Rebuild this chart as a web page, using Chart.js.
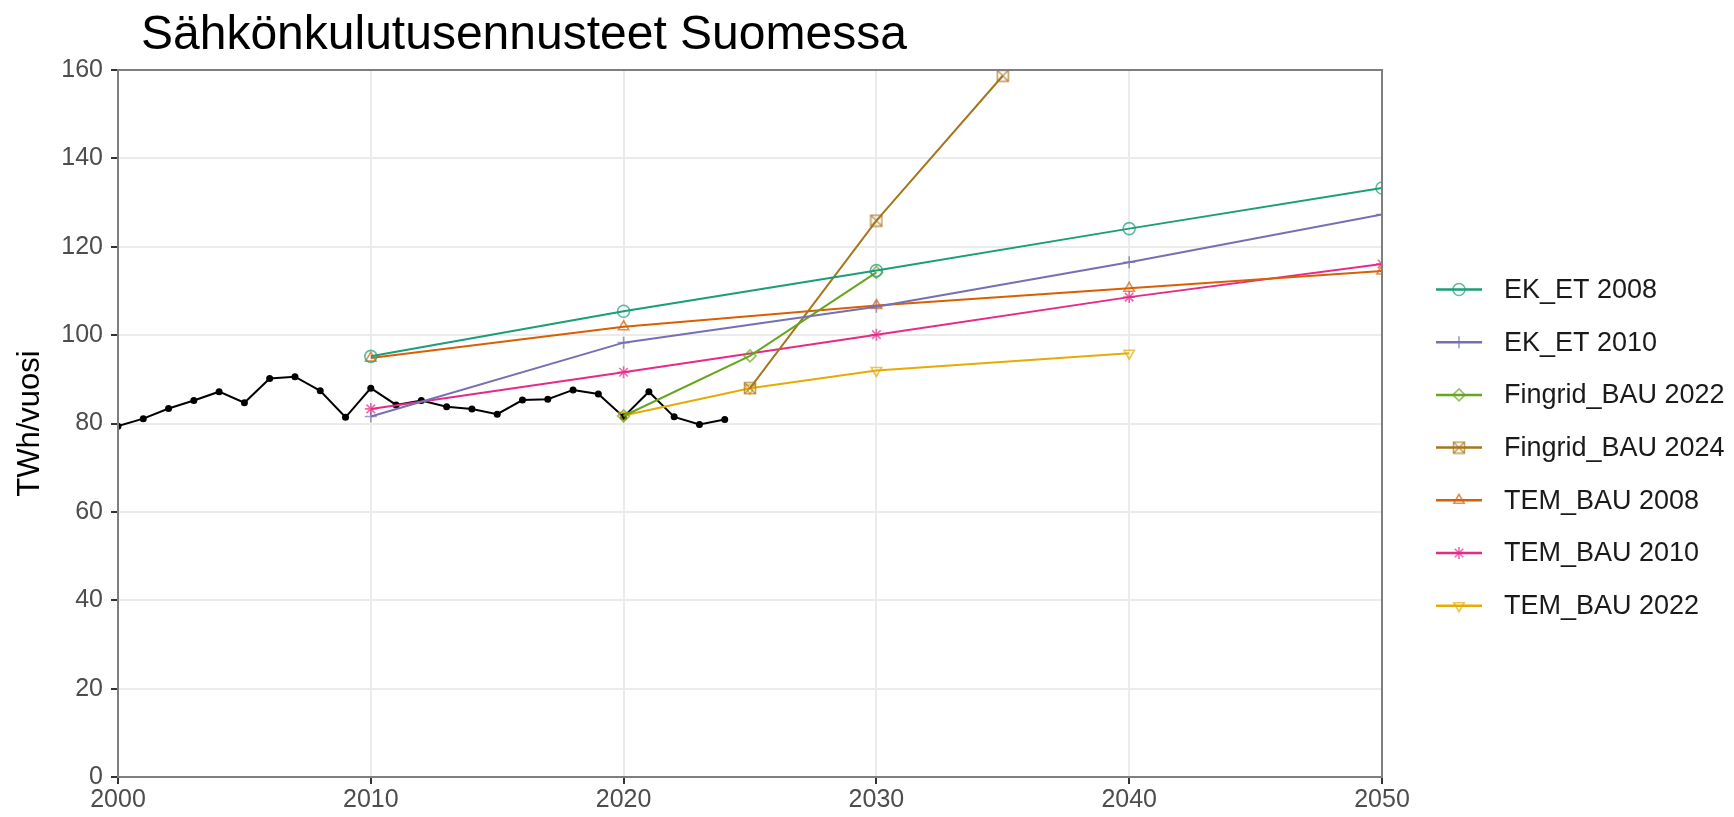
<!DOCTYPE html>
<html><head><meta charset="utf-8">
<script src="https://cdn.jsdelivr.net/npm/chart.js@4/dist/chart.umd.min.js"></script>
<style>html,body{margin:0;padding:0;background:#fff;overflow:hidden}#wrap{width:1734px;height:817px;position:relative}</style>
</head><body><div id="wrap"><canvas id="c" width="1734" height="817"></canvas></div>
<script>
// ---- data ----
const histYears = [2000,2001,2002,2003,2004,2005,2006,2007,2008,2009,2010,2011,2012,2013,2014,2015,2016,2017,2018,2019,2020,2021,2022,2023,2024];
const histValues = [79.4,81.1,83.4,85.2,87.2,84.7,90.2,90.6,87.4,81.4,88.0,84.2,85.2,83.8,83.3,82.1,85.3,85.5,87.6,86.7,81.5,87.2,81.5,79.8,80.9];

const ekEt2008Years = [2010,2020,2030,2040,2050];
const ekEt2008Values = [95.2,105.4,114.6,124.1,133.3];
const ekEt2010Years = [2010,2020,2030,2040,2050];
const ekEt2010Values = [81.6,98.3,106.4,116.5,127.3];
const fingrid2022Years = [2020,2025,2030];
const fingrid2022Values = [81.7,95.3,114.2];
const fingrid2024Years = [2025,2030,2035];
const fingrid2024Values = [88.0,125.9,158.7];
const tem2008Years = [2010,2020,2030,2040,2050];
const tem2008Values = [94.8,101.9,106.7,110.6,114.5];
const tem2010Years = [2010,2020,2030,2040,2050];
const tem2010Values = [83.3,91.6,100.1,108.6,116.1];
const tem2022Years = [2020,2025,2030,2040];
const tem2022Values = [81.8,88.0,92.0,95.9];

const seriesNames = ['EK_ET 2008','EK_ET 2010','Fingrid_BAU 2022','Fingrid_BAU 2024','TEM_BAU 2008','TEM_BAU 2010','TEM_BAU 2022'];
const seriesColors = ['#1b9e77','#7570b3','#66a61e','#a6761d','#d95f02','#e7298a','#e6ab02'];
const seriesYears = [ekEt2008Years,ekEt2010Years,fingrid2022Years,fingrid2024Years,tem2008Years,tem2010Years,tem2022Years];
const seriesValues = [ekEt2008Values,ekEt2010Values,fingrid2022Values,fingrid2024Values,tem2008Values,tem2010Values,tem2022Values];

const xTicks = [2000,2010,2020,2030,2040,2050];
const yTicks = [0,20,40,60,80,100,120,140,160];

const titleText = 'Sähkönkulutusennusteet Suomessa';
const yTitleText = 'TWh/vuosi';

// ---- helpers ----
function hexA(hex, a){
  const n = parseInt(hex.slice(1),16);
  return `rgba(${(n>>16)&255},${(n>>8)&255},${n&255},${a})`;
}
function squareCross(color){
  const s = 14, c = document.createElement('canvas');
  c.width = s; c.height = s;
  const g = c.getContext('2d');
  g.strokeStyle = color; g.lineWidth = 1.6;
  g.strokeRect(1.5,1.5,s-3,s-3);
  g.beginPath(); g.moveTo(1.5,1.5); g.lineTo(s-1.5,s-1.5); g.moveTo(s-1.5,1.5); g.lineTo(1.5,s-1.5); g.stroke();
  return c;
}
const FONT = '"Liberation Sans", Arial, Helvetica, sans-serif';
const markerAlpha = 0.7;
const styles = [
  {pointStyle:'circle', rotation:0},
  {pointStyle:'cross', rotation:0},
  {pointStyle:'rectRot', rotation:0},
  {pointStyle:squareCross(hexA(seriesColors[3],markerAlpha)), rotation:0},
  {pointStyle:'triangle', rotation:0},
  {pointStyle:'star', rotation:0},
  {pointStyle:'triangle', rotation:180},
];

const datasets = seriesNames.map((name,i)=>({
  label: name,
  data: seriesYears[i].map((yr,j)=>({x:yr, y:seriesValues[i][j]})),
  borderColor: seriesColors[i],
  borderWidth: 2,
  pointStyle: styles[i].pointStyle,
  pointRotation: styles[i].rotation,
  pointRadius: 6,
  pointBorderWidth: 1.6,
  pointBorderColor: hexA(seriesColors[i], markerAlpha),
  pointBackgroundColor: 'rgba(0,0,0,0)',
  tension: 0,
  fill: false
}));
datasets.push({
  label: 'Toteutunut',
  data: histYears.map((yr,j)=>({x:yr, y:histValues[j]})),
  borderColor: '#000',
  borderWidth: 2,
  pointStyle: 'circle',
  pointRadius: 3.5,
  pointBorderWidth: 0,
  pointBackgroundColor: '#000',
  tension: 0,
  fill: false
});

const legendTop = 289.5, legendStep = 52.7;

const decor = {
  id: 'decor',
  afterDatasetsDraw(chart){
    const {ctx, chartArea:a} = chart;
    ctx.save();
    ctx.strokeStyle = '#7f7f7f';
    ctx.lineWidth = 2;
    ctx.strokeRect(a.left, a.top, a.right-a.left, a.bottom-a.top);
    ctx.restore();
  },
  afterDraw(chart){
    const ctx = chart.ctx;
    ctx.save();
    ctx.fillStyle = '#000';
    ctx.font = '48px ' + FONT;
    ctx.textBaseline = 'alphabetic';
    ctx.textAlign = 'left';
    ctx.fillText(titleText, 141, 49);
    // legend
    ctx.font = '27px ' + FONT;
    ctx.textBaseline = 'middle';
    seriesNames.forEach((name,i)=>{
      const y = legendTop + legendStep*i;
      ctx.strokeStyle = seriesColors[i];
      ctx.lineWidth = 2.5;
      ctx.beginPath(); ctx.moveTo(1436,y); ctx.lineTo(1482,y); ctx.stroke();
      ctx.strokeStyle = hexA(seriesColors[i], markerAlpha);
      ctx.fillStyle = 'rgba(0,0,0,0)';
      ctx.lineWidth = 1.6;
      Chart.helpers.drawPoint(ctx, {pointStyle: styles[i].pointStyle, rotation: styles[i].rotation, radius: 6, borderWidth: 1.6}, 1459, y);
      ctx.fillStyle = '#1a1a1a';
      ctx.fillText(name, 1504, y+1);
    });
    ctx.restore();
  }
};

new Chart(document.getElementById('c'), {
  type: 'line',
  data: { datasets },
  options: {
    responsive: false,
    animation: false,
    layout: { padding: { left: 0, top: 70, right: 352, bottom: 0 } },
    plugins: { legend: { display: false }, title: { display: false }, tooltip: { enabled: false } },
    scales: {
      x: {
        type: 'linear', min: xTicks[0], max: xTicks[xTicks.length-1],
        afterFit(s){ s.height = 40; },
        afterBuildTicks(s){ s.ticks = xTicks.map(v=>({value:v})); },
        ticks: { callback: v => String(v), color: '#4d4d4d', font: { family: FONT, size: 25 }, padding: 1, maxRotation: 0 },
        grid: { color: '#ebebeb', lineWidth: 2, tickColor: '#333333', tickLength: 7, drawTicks: true },
        border: { color: '#7f7f7f', width: 2 }
      },
      y: {
        type: 'linear', min: yTicks[0], max: yTicks[yTicks.length-1],
        afterFit(s){ s.width = 118; },
        afterBuildTicks(s){ s.ticks = yTicks.map(v=>({value:v})); },
        ticks: { color: '#4d4d4d', font: { family: FONT, size: 25 }, padding: 8 },
        grid: { color: '#ebebeb', lineWidth: 2, tickColor: '#333333', tickLength: 7, drawTicks: true },
        border: { color: '#7f7f7f', width: 2 },
        title: { display: true, text: yTitleText, color: '#000', font: { family: FONT, size: 31 }, padding: { top: 12, bottom: 0 } }
      }
    }
  },
  plugins: [decor]
});
</script>
</body></html>
